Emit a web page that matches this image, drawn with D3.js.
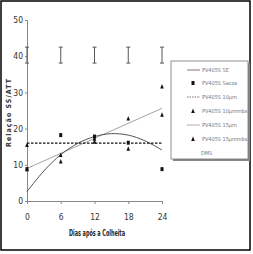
<!DOCTYPE html>
<html><head><meta charset="utf-8">
<script src="https://cdn.jsdelivr.net/npm/d3@7"></script>
<style>
body{margin:0;background:#fff;}
svg text{font-family:"DejaVu Sans Condensed","Liberation Sans Narrow","Liberation Sans",Arial,sans-serif;}
</style></head>
<body><svg id="c" width="253" height="254"></svg>
<script>
// Data
const days = [0, 6, 12, 18, 24];
const xTicks = [0, 6, 12, 18, 24];
const yTicks = [0, 10, 20, 30, 40, 50];
// marker series
const sacosVals = [8.8, 18.2, 17.8, 16.1, 8.8];          // squares
const mbs10Vals = [15.5, 12.7, 16.4, 14.4, 23.8];        // triangles
const mbs15Vals = [8.8, 10.9, 17.2, 22.8, 31.6];         // triangles
// trend lines
const seCurveDays = [0, 3, 6, 9, 12, 15, 18, 21, 24];
const seCurveVals = [2.6, 8.3, 12.8, 15.9, 17.8, 18.6, 18.2, 16.6, 14.1];
const line10Days = [0, 24];
const line10Vals = [16.0, 16.0];
const line15Days = [0, 24];
const line15Vals = [9.0, 25.6];
// DMS error bars
const dmsCenter = [40.3, 40.3, 40.3, 40.3, 40.3];
const dmsHalf = [2.2, 2.2, 2.2, 2.2, 2.2];
const legendLabels = ["PV405S SE", "PV405S Sacos", "PV405S 10µm", "PV405S 10µmmbs", "PV405S 15µm", "PV405S 15µmmbs", "DMS"];

const svg = d3.select("#c");
svg.append("rect").attr("x",0).attr("y",0).attr("width",253).attr("height",254).attr("fill","#fff");
// outer frame
svg.append("rect").attr("x",1).attr("y",1).attr("width",249).attr("height",249)
  .attr("fill","none").attr("stroke","#000").attr("stroke-width",1.5);

const x = d3.scaleLinear().domain([0,24]).range([27,162]);
const y = d3.scaleLinear().domain([0,50]).range([201,20]);

// axes
const gy = svg.append("g").attr("transform","translate(27,0)")
  .call(d3.axisLeft(y).tickValues(yTicks).tickSize(2).tickPadding(2));
const gx = svg.append("g").attr("transform","translate(0,201)")
  .call(d3.axisBottom(x).tickValues(xTicks).tickSize(3).tickPadding(10));
[gy,gx].forEach(g=>{
  g.select(".domain").attr("stroke","#888").attr("stroke-width",1);
  g.selectAll(".tick line").attr("stroke","#888");
  g.selectAll(".tick text").attr("fill","#333").style("font-size","8.5px")
    .style("font-family","'DejaVu Sans Condensed','Liberation Sans Narrow',Arial,sans-serif");
});

svg.append("text").attr("x",97).attr("y",236).attr("text-anchor","middle")
  .attr("fill","#222").style("font-size","8px").style("font-weight","bold")
  .attr("textLength",56).attr("lengthAdjust","spacingAndGlyphs").text("Dias após a Colheita");
svg.append("text").attr("transform","translate(11,113) rotate(-90)").attr("text-anchor","middle")
  .attr("fill","#333").style("font-size","7px").style("font-weight","bold")
  .attr("textLength",68).attr("lengthAdjust","spacing")
  .text("Relação SS/ATT");

// DMS bars
const eb = svg.append("g").attr("stroke","#555").attr("stroke-width",1);
days.forEach((d,i)=>{
  const cx = x(d), y1 = y(dmsCenter[i]+dmsHalf[i]), y2 = y(dmsCenter[i]-dmsHalf[i]);
  eb.append("line").attr("x1",cx).attr("x2",cx).attr("y1",y1).attr("y2",y2);
  eb.append("line").attr("x1",cx-2).attr("x2",cx+2).attr("y1",y1).attr("y2",y1);
  eb.append("line").attr("x1",cx-2).attr("x2",cx+2).attr("y1",y2).attr("y2",y2);
});

// lines
const lg = d3.line().x(d=>x(d[0])).y(d=>y(d[1]));
svg.append("path").datum(line15Days.map((d,i)=>[d,line15Vals[i]]))
  .attr("d",lg).attr("fill","none").attr("stroke","#999").attr("stroke-width",0.9);
svg.append("path").datum(seCurveDays.map((d,i)=>[d,seCurveVals[i]]))
  .attr("d",lg.curve(d3.curveCatmullRom)).attr("fill","none").attr("stroke","#555").attr("stroke-width",1);
lg.curve(d3.curveLinear);
svg.append("path").datum(line10Days.map((d,i)=>[d,line10Vals[i]]))
  .attr("d",lg).attr("fill","none").attr("stroke","#111").attr("stroke-width",1.4).attr("stroke-dasharray","2.5,1.5");

// markers
function square(g,cx,cy){g.append("rect").attr("x",cx-1.5).attr("y",cy-2).attr("width",3).attr("height",4).attr("fill","#111");}
function tri(g,cx,cy){g.append("path").attr("d",`M${cx},${cy-2.5}L${cx+1.8},${cy+2}L${cx-1.8},${cy+2}Z`).attr("fill","#111");}
const mg = svg.append("g");
days.forEach((d,i)=>{
  tri(mg,x(d),y(mbs15Vals[i]));
  tri(mg,x(d),y(mbs10Vals[i]));
  square(mg,x(d),y(sacosVals[i]));
});

// legend
const L = svg.append("g");
L.append("rect").attr("x",173).attr("y",63).attr("width",77).attr("height",98).attr("fill","#888");
L.append("rect").attr("x",171).attr("y",61).attr("width",77).attr("height",98).attr("fill","#fff").attr("stroke","#777").attr("stroke-width",0.8);
const ly = [70,83,97,111,125,139,153];
legendLabels.forEach((t,i)=>{
  const yy = ly[i];
  if(i===0) L.append("line").attr("x1",187).attr("x2",200).attr("y1",yy).attr("y2",yy).attr("stroke","#555").attr("stroke-width",0.8);
  if(i===2) L.append("line").attr("x1",187).attr("x2",200).attr("y1",yy).attr("y2",yy).attr("stroke","#555").attr("stroke-width",0.8).attr("stroke-dasharray","1.5,1");
  if(i===4) L.append("line").attr("x1",187).attr("x2",200).attr("y1",yy).attr("y2",yy).attr("stroke","#999").attr("stroke-width",0.8);
  if(i===1) square(L,193,yy);
  if(i===3||i===5) tri(L,193,yy);
  L.append("text").attr("x",i===6?201:202).attr("y",yy+2).attr("fill","#777").style("font-size","5.5px").text(t);
});
</script></body></html>
